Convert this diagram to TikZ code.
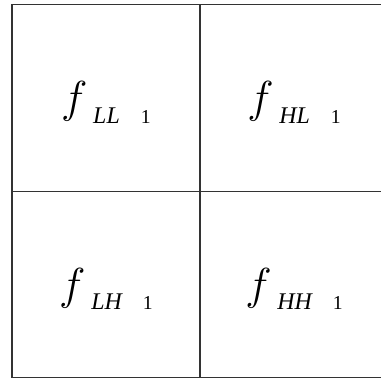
\documentclass[tikz,border=0pt]{standalone}
\usepackage{fontspec}
\setmainfont{Liberation Serif}
\usetikzlibrary{positioning}

% label f_{xx 1}
\newcommand{\sbd}[1]{\scalebox{1.28}{\fontsize{24.88}{26}\selectfont$f$}\hspace{4pt}%
  \smash{\raisebox{-7.5pt}{\fontsize{17}{17}\selectfont\itshape #1}}\hspace{15pt}%
  \smash{\raisebox{-7.5pt}{\fontsize{14}{14}\selectfont 1}}}

\tikzset{
  cell/.style={draw=black!80, line width=0.8pt, minimum width=4.7cm,
    minimum height=4.66cm, inner sep=0pt, outer sep=0pt},
  lbl/.style={inner sep=0pt, yshift=-2.5pt}
}

\begin{document}
\begin{tikzpicture}[x=0.025cm, y=-0.025cm]
    \useasboundingbox (0,0) rectangle (381,382);
    \clip (0,0) rectangle (381,382);

    % 1. Four sub-bands
    \node[cell] (ll) at (106,98) {};
    \node[cell, right=0pt of ll] (hl) {};
    \node[cell, below=0pt of ll] (lh) {};
    \node[cell, right=0pt of lh] (hh) {};

    % 2. Labels
    \node[lbl] (tll) at (ll) {\sbd{LL}};
    \node[lbl] (thl) at (hl) {\sbd{HL}};
    \node[lbl] (tlh) at (lh) {\sbd{LH}};
    \node[lbl] (thh) at (hh) {\sbd{HH}};
\end{tikzpicture}
\end{document}
